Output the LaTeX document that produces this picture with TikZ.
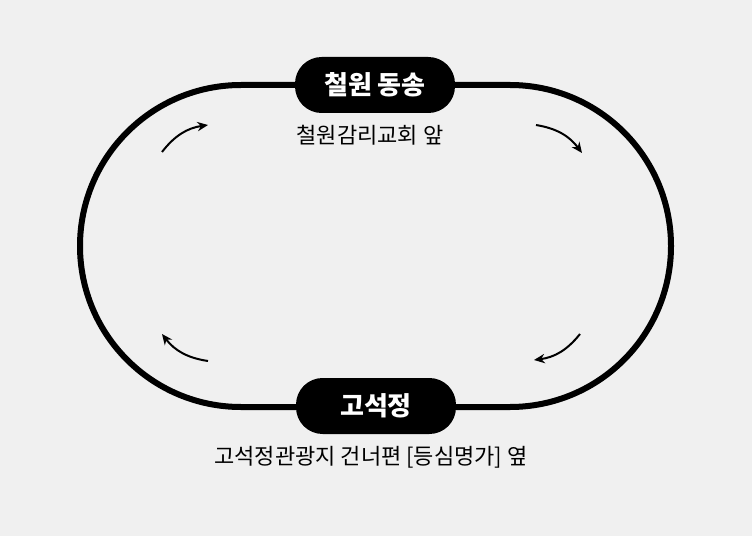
\documentclass[tikz,border=0pt]{standalone}
\usepackage{fontspec}
\setmainfont{Noto Sans CJK KR}
\usepackage{xcolor}
\usetikzlibrary{arrows.meta,
positioning}

\definecolor{bggray}{RGB}{240,240,240}

\begin{document}
\begin{tikzpicture}[
				x=0.75pt, y=0.75pt,
				stop/.style={
					fill=black,
					text=white,
					rounded corners=20pt,
					minimum width=120pt,
					minimum height=42pt,
					inner sep=0pt,
					font=\bfseries\fontsize{19.5}{21}\selectfont
				},
				place/.style={
					inner sep=0pt,
					xshift=-3.75pt,
					font=\fontsize{16.5}{18}\selectfont
				},
				route/.style={
					line width=4.5pt
				},
				turn/.style={
					line width=1.5pt,
					-{Stealth[length=8pt,width=7pt]},
					bend left=22
				}
				]
				\fill[bggray] (0,0) rectangle (752,536);
				\useasboundingbox (0,0) rectangle (752,536);
				
				% loop
				\draw[route] (241,451) -- (510,451) arc[start angle=90, end angle=-90, radius=161]
					-- (241,129) arc[start angle=270, end angle=90, radius=161];
				
				\node[stop] (dongsong) at (375,451) {철원 동송};
				\node[stop] (goseok) at (376,130) {고석정};
				\node[place, below=9pt of dongsong] (church) {철원감리교회 앞};
				\node[place, below=9pt of goseok] (resort) {고석정관광지 건너편 [등심명가] 옆};
				
				% direction
				\coordinate (tl1) at (162,384);
				\coordinate (tl2) at (208,411);
				\coordinate (tr1) at (536,411);
				\coordinate (tr2) at (582,383);
				\coordinate (br1) at (580,202);
				\coordinate (br2) at (534,176);
				\coordinate (bl1) at (208,175);
				\coordinate (bl2) at (162,202);
				\draw[turn] (tl1) to (tl2);
				\draw[turn] (tr1) to (tr2);
				\draw[turn] (br1) to (br2);
				\draw[turn] (bl1) to (bl2);
			\end{tikzpicture}
\end{document}
